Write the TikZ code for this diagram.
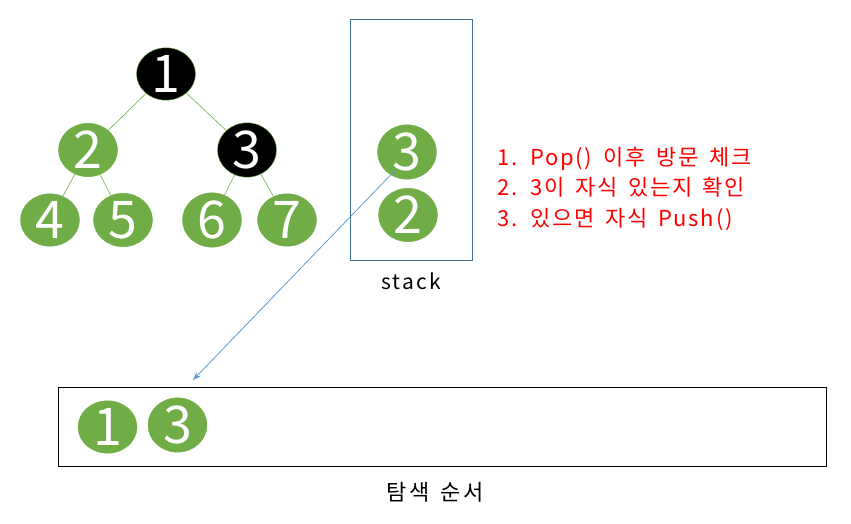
\documentclass[tikz,border=0pt]{standalone}
\usepackage{fontspec}
\setmainfont{Noto Sans CJK KR}
\newfontfamily\spaced[LetterSpace=10,WordSpace=1.6]{Noto Sans CJK KR}
\newfontfamily\spacedb[LetterSpace=8,WordSpace=1.6]{Noto Sans CJK KR}
\usetikzlibrary{shapes.geometric,arrows.meta}
\definecolor{ngreen}{HTML}{70AD47}
\definecolor{sblue}{HTML}{41719C}
\definecolor{ablue}{HTML}{5B9BD5}
\tikzset{
  tnode/.style={ellipse,fill=ngreen,draw=ngreen,minimum width=59pt,minimum height=46pt,inner sep=0pt,text=white,font=\fontsize{52}{52}\selectfont},
  vnode/.style={tnode,fill=black},
  tedge/.style={draw=ngreen,line width=0.6pt},
  lbl/.style={font=\spaced\fontsize{21}{21}\selectfont},
}
\begin{document}
\begin{tikzpicture}[x=1pt,y=-1pt]
\useasboundingbox (0,0) rectangle (851,524);
% tree
\node[vnode] (n1) at (166,74) {1};
\node[tnode] (n2) at (88,150) {2};
\node[vnode] (n3) at (247,150) {3};
\node[tnode] (n4) at (50,220) {4};
\node[tnode] (n5) at (123,220) {5};
\node[tnode] (n6) at (212,220) {6};
\node[tnode] (n7) at (287,220) {7};
\draw[tedge] (n1) -- (n2);
\draw[tedge] (n1) -- (n3);
\draw[tedge] (n2) -- (n4);
\draw[tedge] (n2) -- (n5);
\draw[tedge] (n3) -- (n6);
\draw[tedge] (n3) -- (n7);
% stack
\node[draw=sblue,line width=0.8pt,minimum width=122pt,minimum height=241pt,inner sep=0pt] (stk) at (411,139.5) {};
\node[tnode] (s3) at (407,152) {3};
\node[tnode] (s2) at (408,215) {2};
\node[lbl] (stl) at (411,281) {stack};
% red notes
\node[anchor=west,text=red,align=left,font=\spacedb\fontsize{22}{30.5}\selectfont,inner sep=0pt] (notes) at (497,189) {1. Pop() 이후 방문 체크\\2. 3이 자식 있는지 확인\\3. 있으면 자식 Push()};
% result box
\node[draw=black,line width=1pt,minimum width=768pt,minimum height=79pt,inner sep=0pt] (res) at (442,426.5) {};
\node[tnode] (r1) at (107.5,427) {1};
\node[tnode] (r3) at (177.5,425) {3};
\node[font=\spaced\fontsize{22}{22}\selectfont] (rl) at (435,492) {탐색 순서};
% arrow
\coordinate (aend) at (193,380);
\draw[ablue,line width=0.8pt,-{Stealth[length=8pt,width=6pt]}] (s3.south west) ++(10,-2) -- (aend);
\end{tikzpicture}
\end{document}
